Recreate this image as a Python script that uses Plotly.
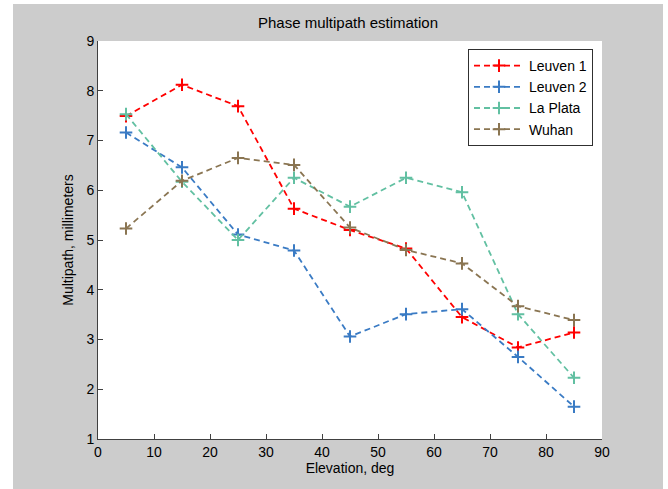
import plotly.graph_objects as go

elevation = [5, 15, 25, 35, 45, 55, 65, 75, 85]
leuven1 = [7.49, 8.12, 7.69, 5.63, 5.20, 4.83, 3.45, 2.84, 3.14]
leuven2 = [7.16, 6.46, 5.11, 4.79, 3.06, 3.51, 3.61, 2.65, 1.65]
la_plata = [7.53, 6.17, 5.00, 6.25, 5.67, 6.25, 5.96, 3.51, 2.23]
wuhan = [5.23, 6.19, 6.65, 6.51, 5.25, 4.80, 4.53, 3.67, 3.39]

series = [
    ("Leuven 1", leuven1, "#ff0000"),
    ("Leuven 2", leuven2, "#3a7bc4"),
    ("La Plata", la_plata, "#62c0a2"),
    ("Wuhan", wuhan, "#8a7552"),
]

x_ticks = list(range(0, 91, 10))
y_ticks = list(range(1, 10))

FONT = "Liberation Sans, Arial, sans-serif"
AXC = "#404040"

fig = go.Figure()
for name, vals, col in series:
    fig.add_trace(go.Scatter(
        x=elevation, y=vals, name=name, mode="lines+markers",
        line=dict(color=col, width=1.8, dash="6px,4px"),
        marker=dict(symbol="cross-thin", size=9, line=dict(color=col, width=2)),
    ))

W, H = 668, 489
L, R, T, B = 98, 66, 41, 50
pw, ph = W - L - R, H - T - B

def px_x(p):
    return (p - L) / pw

def px_y(p):
    return (H - B - p) / ph

fig.update_layout(
    width=W, height=H,
    margin=dict(l=L, r=R, t=T, b=B),
    paper_bgcolor="white",
    plot_bgcolor="white",
    font=dict(family=FONT, size=14, color="black"),
    title=dict(text="Phase multipath estimation", x=px_x(348), xref="paper", xanchor="center",
               y=1 - 23 / H, yanchor="middle", font=dict(size=15, color="black")),
    showlegend=True,
    legend=dict(x=px_x(468), y=px_y(49), xanchor="left", yanchor="top",
                bgcolor="white", bordercolor="#303030", borderwidth=1,
                font=dict(size=14, color="black"), itemwidth=50,
                tracegroupgap=0),
    shapes=[
        dict(type="rect", xref="paper", yref="paper", layer="below",
             x0=px_x(13), x1=px_x(663), y0=px_y(489), y1=px_y(4),
             fillcolor="#cccccc", line=dict(width=0)),
        dict(type="rect", xref="x domain", yref="y domain", layer="below",
             x0=0, x1=1, y0=0, y1=1, fillcolor="white", line=dict(width=0)),
    ],
)
fig.update_xaxes(
    range=[0, 90], tickvals=x_ticks, ticktext=[str(v) for v in x_ticks],
    showgrid=False, zeroline=False, showline=True, linecolor=AXC, linewidth=1,
    ticks="inside", ticklen=5, tickcolor=AXC, mirror=False,
    title=dict(text="Elevation, deg", standoff=2, font=dict(size=14)),
    tickfont=dict(size=14),
)
fig.update_yaxes(
    range=[1, 9], tickvals=y_ticks, ticktext=[str(v) for v in y_ticks],
    showgrid=False, zeroline=False, showline=True, linecolor=AXC, linewidth=1,
    ticks="inside", ticklen=5, tickcolor=AXC, mirror=False,
    title=dict(text="Multipath, millimeters", standoff=9, font=dict(size=14)),
    tickfont=dict(size=14),
)

fig.write_html("out.html")
